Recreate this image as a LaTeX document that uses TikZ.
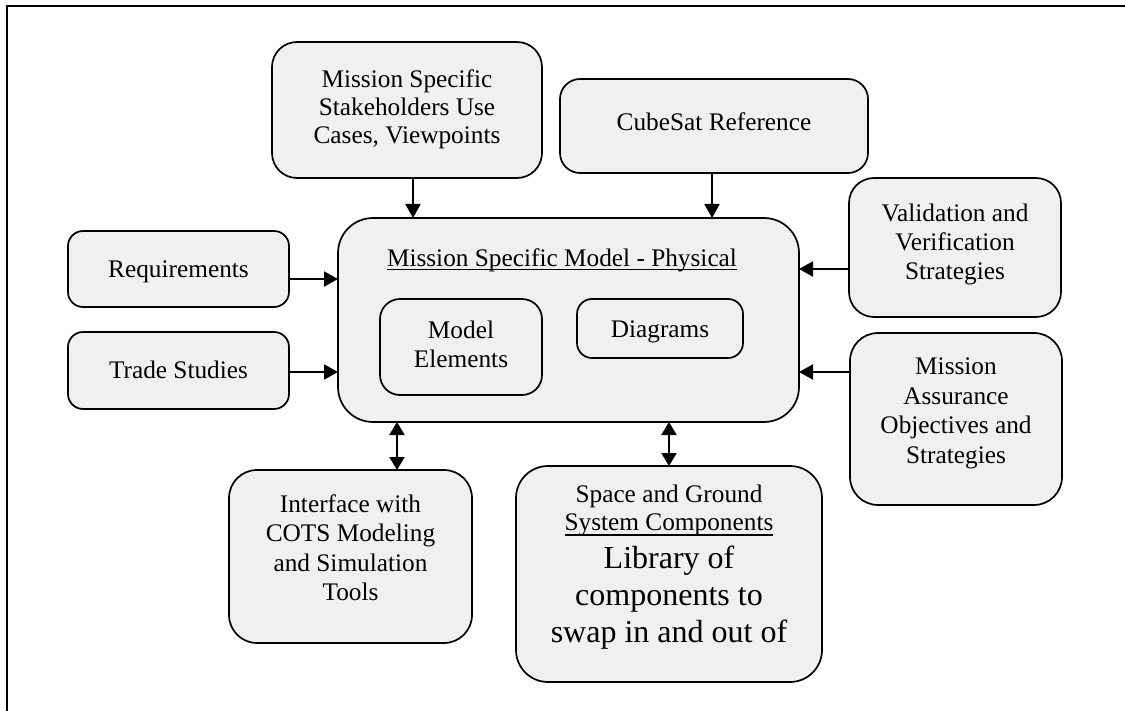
\documentclass[tikz,border=0pt]{standalone}
\usepackage{fontspec}
\setmainfont{Liberation Serif}
\usetikzlibrary{arrows.meta}
\definecolor{boxgray}{HTML}{F0F0F0}
\newcommand\nf{\fontsize{25.3bp}{29.4bp}\selectfont}
\newcommand\bigf{\fontsize{32bp}{37bp}\selectfont}
\tikzset{
  box/.style={draw=black, fill=boxgray, line width=1.7bp, rounded corners=#1, inner sep=0pt, outer sep=0pt},
  box/.default=20bp,
  txt/.style={inner sep=0pt, outer sep=0pt, anchor=north, align=center, font=\nf},
  btxt/.style={inner sep=0pt, outer sep=0pt, anchor=base, font=\nf},
  arr/.style={-{Triangle[length=14bp,width=15bp]}, line width=2bp},
  dbl/.style={{Triangle[length=13bp,width=15bp]}-{Triangle[length=13bp,width=15bp]}, line width=2bp},
  uline/.style={line width=1.3bp},
}
\begin{document}
\begin{tikzpicture}[x=1bp, y=-1bp]
\useasboundingbox (0,0) rectangle (1125,711);
% frame
\draw[line width=2bp] (7,711) -- (7,6) -- (1125,6);

% boxes
\node[box=25bp, minimum width=270bp, minimum height=136bp] (stake) at (407,110) {};
\node[box=20bp, minimum width=308bp, minimum height=94bp] (cube) at (714,126) {};
\node[box=15bp, minimum width=221bp, minimum height=76bp] (req) at (178.5,269) {};
\node[box=15bp, minimum width=221bp, minimum height=77bp] (trade) at (178.5,370.5) {};
\node[box=35bp, minimum width=461bp, minimum height=204bp] (main) at (568.5,320) {};
\node[box=20bp, minimum width=162bp, minimum height=96bp] (model) at (461,347) {};
\node[box=15bp, minimum width=166bp, minimum height=59bp] (diag) at (660,328.5) {};
\node[box=25bp, minimum width=212bp, minimum height=139bp] (val) at (955,247.5) {};
\node[box=28bp, minimum width=212bp, minimum height=172bp] (ma) at (956,419) {};
\node[box=28bp, minimum width=243bp, minimum height=173bp] (int) at (350.5,556.5) {};
\node[box=32bp, minimum width=306bp, minimum height=216bp] (space) at (669,574) {};

% texts
\node[txt, font=\fontsize{25.3bp}{27.7bp}\selectfont] (stakeT) at (407,70) {Mission Specific\\Stakeholders Use\\Cases, Viewpoints};
\node[btxt] (cubeT) at (714,131) {CubeSat Reference};
\node[btxt] (reqT) at (178.5,277) {Requirements};
\node[btxt] (tradeT) at (178.5,378) {Trade Studies};
\node[btxt] (mainT) at (562,266) {Mission Specific Model - Physical};
\node[txt, font=\fontsize{25.3bp}{29bp}\selectfont] (modelT) at (461,320.7) {Model\\Elements};
\node[btxt] (diagT) at (660,337) {Diagrams};
\node[txt, font=\fontsize{25.3bp}{29bp}\selectfont] (valT) at (955,203.7) {Validation and\\Verification\\Strategies};
\node[txt, font=\fontsize{25.3bp}{29.6bp}\selectfont] (maT) at (956,357.7) {Mission\\Assurance\\Objectives and\\Strategies};
\node[txt] (intT) at (350.5,494.4) {Interface with\\COTS Modeling\\and Simulation\\Tools};
\node[btxt] (spaceT1) at (669,502) {Space and Ground};
\node[btxt] (spaceT2) at (669,530) {System Components};
\node[txt, font=\bigf] (libT) at (669,546.1) {Library of\\components to\\swap in and out of};

% underlines
\draw[uline] ([yshift=-3.5bp]mainT.base west) -- ([yshift=-3.5bp]mainT.base east);
\draw[uline] ([yshift=-5bp]spaceT2.base west) -- ([yshift=-5bp]spaceT2.base east);

% connectors
\draw[arr] ([xshift=6bp]stake.south) -- ([xshift=6bp]stake.south |- main.north);
\draw[arr] ([xshift=-2bp]cube.south) -- ([xshift=-2bp]cube.south |- main.north);
\draw[arr] ([yshift=-10bp]req.east) -- ([yshift=-10bp]req.east -| main.west);
\draw[arr] ([yshift=-1.5bp]trade.east) -- ([yshift=-1.5bp]trade.east -| main.west);
\draw[arr] ([yshift=-21.5bp]val.west) -- ([yshift=-21.5bp]val.west -| main.east);
\draw[arr] ([yshift=47bp]ma.west) -- ([yshift=47bp]ma.west -| main.east);
\draw[dbl] ([xshift=46.5bp]int.north) -- ([xshift=46.5bp]int.north |- main.south);
\draw[dbl] (space.north) -- (space.north |- main.south);
\end{tikzpicture}
\end{document}
